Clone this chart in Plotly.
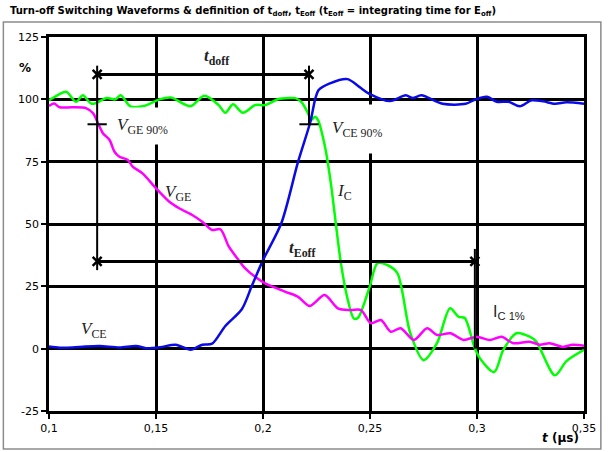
import plotly.graph_objects as go

# --- waveform data (time in µs, amplitude in % of steady-state value) ---
t_vce = [0.1, 0.105, 0.111, 0.117, 0.1237, 0.1329, 0.1407, 0.1453, 0.152, 0.1592,
         0.1662, 0.1716, 0.1762, 0.1824, 0.1901, 0.1948, 0.2, 0.2086, 0.2164, 0.222,
         0.2259, 0.2313, 0.2395, 0.245, 0.2495, 0.2594, 0.2667, 0.270, 0.274, 0.2839,
         0.2947, 0.2993, 0.3047, 0.3092, 0.3147, 0.32, 0.3255, 0.331, 0.3364, 0.3418, 0.35]
v_vce = [0.9, 0.4, 0.5, 0.9, 1.1, 0.5, 1.1, 0.2, 0.6, 1.6,
         -0.4, 1.6, 2.0, 9.1, 15.8, 25.2, 35.5, 50.4, 75.0, 90.5,
         103.6, 106.4, 108.1, 105.0, 102.3, 99.3, 101.6, 100.5, 101.6, 98.2,
         98.2, 100.0, 101.0, 99.0, 99.0, 97.2, 99.6, 99.2, 98.2, 98.8, 98.2]

t_ic = [0.1, 0.1027, 0.108, 0.1127, 0.1158, 0.12, 0.127, 0.131, 0.1335, 0.138,
        0.1444, 0.1516, 0.157, 0.1661, 0.1725, 0.1793, 0.1824, 0.186, 0.1906, 0.1964,
        0.201, 0.207, 0.2123, 0.215, 0.218, 0.221, 0.2225, 0.2243, 0.2257, 0.229,
        0.2317, 0.234, 0.2364, 0.2395, 0.2425, 0.2445, 0.2498, 0.2535, 0.2582, 0.2628,
        0.2688, 0.2750, 0.2813, 0.2874, 0.2915, 0.2943, 0.2988, 0.3013, 0.3080, 0.3123,
        0.3184, 0.3246, 0.3277, 0.3364, 0.3418, 0.35]
v_ic = [99.6, 101.0, 103.0, 99.0, 101.6, 98.2, 100.5, 100.0, 101.6, 97.2,
        97.3, 100.0, 100.7, 97.2, 101.4, 97.7, 94.6, 98.0, 94.6, 97.7,
        97.7, 100.0, 100.5, 100.5, 98.9, 94.5, 91.7, 93.0, 91.7, 80.9,
        66.4, 50.4, 34.3, 20.0, 12.0, 12.5, 24.7, 34.3, 33.5, 30.3,
        6.3, -4.6, 2.2, 16.2, 12.7, 12.3, 0.6, -3.8, -9.4, -0.5,
        6.2, 4.8, 2.8, -10.7, -5.0, -0.5]

t_vge = [0.1, 0.1024, 0.105, 0.111, 0.1175, 0.1206, 0.1229, 0.1252, 0.1283, 0.1306,
         0.1329, 0.1368, 0.1391, 0.1437, 0.15, 0.1561, 0.1608, 0.1669, 0.1716, 0.1762,
         0.1801, 0.184, 0.1886, 0.1917, 0.1963, 0.201, 0.2102, 0.2164, 0.2218, 0.2288,
         0.235, 0.2411, 0.2458, 0.2504, 0.2551, 0.2597, 0.2643, 0.2705, 0.2767, 0.2813,
         0.2875, 0.2937, 0.2999, 0.306, 0.3115, 0.3169, 0.3246, 0.3293, 0.3339, 0.3401,
         0.3447, 0.35]
v_vge = [97.3, 98.3, 96.8, 96.8, 96.4, 94.4, 90.4, 86.4, 83.7, 79.0,
         77.0, 75.7, 73.0, 70.3, 64.3, 59.0, 56.3, 53.6, 50.9, 47.6,
         47.9, 41.0, 35.5, 32.2, 28.8, 26.2, 22.9, 20.8, 17.1, 21.5,
         16.2, 15.5, 15.5, 10.2, 11.5, 6.8, 8.2, 3.5, 8.2, 5.5,
         6.2, 3.5, 4.8, 3.5, 4.8, 2.2, 2.8, 1.6, 2.2, 0.7,
         1.6, 1.2]

# --- axis ticks ---
x_ticks = [0.1, 0.15, 0.2, 0.25, 0.3, 0.35]
x_tick_labels = ["0,1", "0,15", "0,2", "0,25", "0,3", "0,35"]
y_ticks = [-25, 0, 25, 50, 75, 100, 125]
y_tick_labels = ["-25", "0", "25", "50", "75", "100", "125"]

# --- timing definition points ---
T_GE90 = 0.1225    # V_GE falls to 90 %
T_CE90 = 0.2215    # V_CE rises to 90 %
T_IC1 = 0.299      # I_C decays to 1 %
LEVEL_DOFF = 110
LEVEL_EOFF = 35
LEVEL_90 = 90

BLACK = "#000000"
fig = go.Figure()

fig.add_trace(go.Scatter(x=t_ic, y=v_ic, mode="lines", line=dict(color="#00ff00", width=2.5, shape="spline", smoothing=0.8)))
fig.add_trace(go.Scatter(x=t_vge, y=v_vge, mode="lines", line=dict(color="#ff00ff", width=2.5, shape="spline", smoothing=0.8)))
fig.add_trace(go.Scatter(x=t_vce, y=v_vce, mode="lines", line=dict(color="#0a0ae6", width=2.5, shape="spline", smoothing=0.8)))

# dimension lines for t_doff and t_Eoff
def seg(x0, y0, x1, y1, w=2.5):
    fig.add_shape(type="line", xref="x", yref="y", x0=x0, y0=y0, x1=x1, y1=y1,
                  line=dict(color=BLACK, width=w), layer="above")

seg(T_GE90, LEVEL_DOFF, T_CE90, LEVEL_DOFF, 3)
seg(T_GE90, LEVEL_EOFF, T_IC1, LEVEL_EOFF, 3)
seg(T_GE90, 113.5, T_GE90, 31.5, 2)
seg(T_CE90, 113.5, T_CE90, LEVEL_90, 2)
seg(T_IC1, 40, T_IC1, 0, 2)
seg(T_GE90 - 0.0045, LEVEL_90, T_GE90 + 0.0045, LEVEL_90, 2)
seg(T_CE90 - 0.0045, LEVEL_90, T_CE90 + 0.0045, LEVEL_90, 2)

fig.add_trace(go.Scatter(
    x=[T_GE90, T_CE90, T_GE90, T_IC1],
    y=[LEVEL_DOFF, LEVEL_DOFF, LEVEL_EOFF, LEVEL_EOFF],
    mode="markers",
    marker=dict(symbol="x-thin", size=9, line=dict(color=BLACK, width=2.5)),
))

serif = "Liberation Serif"
lab_color = "#222222"

def label(x, y, text, xanchor="left", size=17, family=serif, xref="x", yref="y", **box):
    fig.add_annotation(x=x, y=y, xref=xref, yref=yref, text=text, showarrow=False,
                       xanchor=xanchor, yanchor="middle",
                       font=dict(family=family, size=size, color=lab_color), **box)

label(0.1784, 117, "<b><i>t</i><sub>doff</sub></b>", xanchor="center")
label(0.2187, 40, "<b><i>t</i><sub>Eoff</sub></b>", xanchor="center")
# the 90 % labels sit in white boxes that mask the grid behind them
label(0.1312, 89.2, "<i>V</i><sub>GE 90%</sub>", bgcolor="white", width=54, height=36,
      align="left", borderpad=0)
label(0.2316, 88.0, "<i>V</i><sub>CE 90%</sub>", bgcolor="white", width=54, height=48,
      align="left", borderpad=0)
label(0.1535, 62.5, "<i>V</i><sub>GE</sub>")
label(0.2338, 63, "<i>I</i><sub>C</sub>")
label(0.1142, 7.5, "<i>V</i><sub>CE</sub>")
label(0.3064, 14.5, "I<sub>C 1%</sub>", family="Liberation Sans", size=16)

fig.add_annotation(x=-0.03, y=112.5, xref="paper", yref="y", text="<b>%</b>", showarrow=False,
                   xanchor="right", yanchor="middle",
                   font=dict(family="DejaVu Sans", size=12, color=BLACK))
fig.add_annotation(x=0.995, y=-0.072, xref="paper", yref="paper",
                   text="<b><i>t</i> (µs)</b>", showarrow=False, xanchor="right", yanchor="middle",
                   font=dict(family="DejaVu Sans", size=12, color=BLACK))

fig.add_annotation(x=-0.076, y=1.069, xref="paper", yref="paper",
                   text="<b>Turn-off Switching Waveforms &amp; definition of t<sub>doff</sub>, t<sub>Eoff</sub> "
                        "(t<sub>Eoff</sub> = integrating time for E<sub>off</sub>)</b>",
                   showarrow=False, xanchor="left", yanchor="middle",
                   font=dict(family="DejaVu Sans", size=10, color=BLACK))

# outer chart frame
fig.add_shape(type="rect", xref="paper", yref="paper", x0=-0.0853, x1=1.0315, y0=-0.1016, y1=1.0401,
              line=dict(color="#8c8c8c", width=1.5), layer="below")

axis_font = dict(family="DejaVu Sans", size=11, color=BLACK)
fig.update_xaxes(range=[0.1, 0.35], tickvals=x_ticks, ticktext=x_tick_labels,
                 showgrid=True, gridcolor=BLACK, gridwidth=2.5, zeroline=False,
                 showline=True, linecolor=BLACK, linewidth=2.5, mirror=True,
                 ticks="outside", ticklen=5, tickwidth=2, tickcolor=BLACK, tickfont=axis_font)
fig.update_yaxes(range=[-25, 125], tickvals=y_ticks, ticktext=y_tick_labels,
                 showgrid=True, gridcolor=BLACK, gridwidth=2.5, zeroline=False,
                 showline=True, linecolor=BLACK, linewidth=2.5, mirror=True,
                 ticks="outside", ticklen=5, tickwidth=2, tickcolor=BLACK, tickfont=axis_font)

fig.update_layout(width=608, height=452, margin=dict(l=49, r=20, t=37, b=41),
                  paper_bgcolor="white", plot_bgcolor="white", showlegend=False)

fig.write_html("out.html")
